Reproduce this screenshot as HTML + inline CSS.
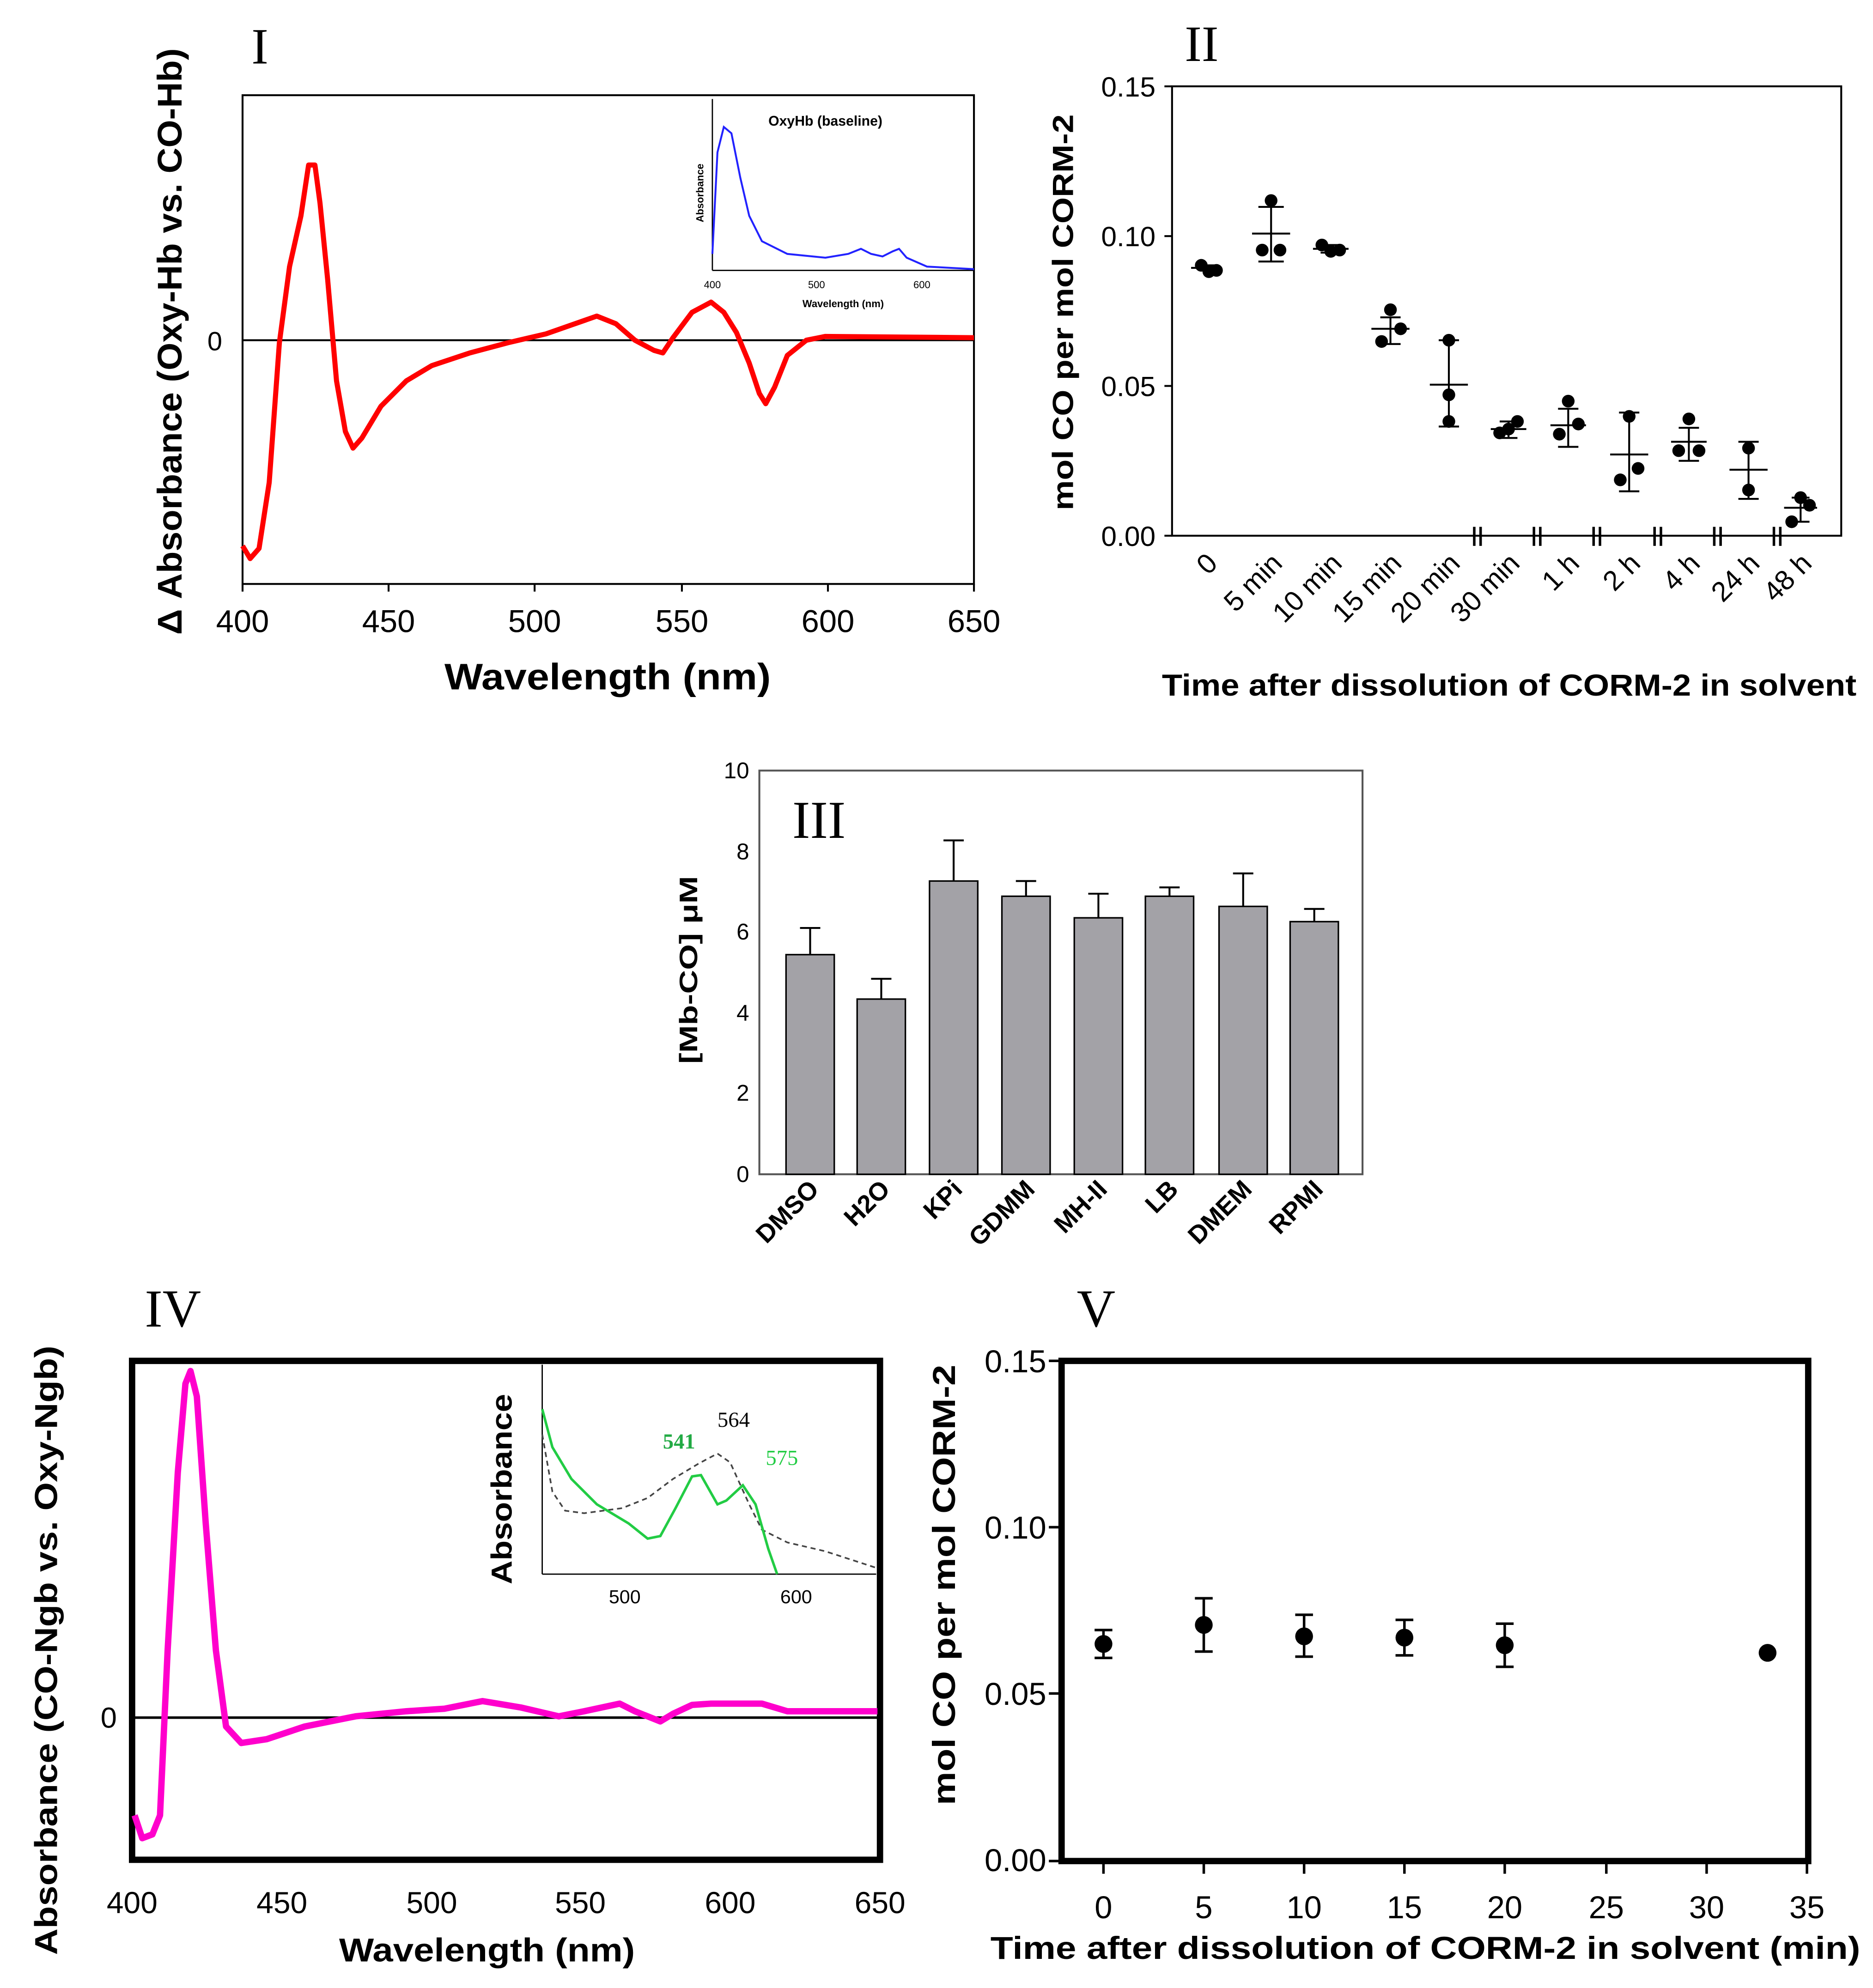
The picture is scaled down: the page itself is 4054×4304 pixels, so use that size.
<!DOCTYPE html>
<html><head><meta charset="utf-8"><style>html,body{margin:0;padding:0;background:#fff}svg{display:block}</style></head><body>
<svg xmlns="http://www.w3.org/2000/svg" width="4054" height="4304" viewBox="0 0 1475 1566" font-family="Liberation Sans, sans-serif">
<rect width="1475" height="1566" fill="#fff"/>
<!-- Panel I -->
<text x="198" y="50" font-family="Liberation Serif, serif" font-size="40">I</text>
<rect x="191" y="75" width="576" height="385" fill="none" stroke="#000" stroke-width="1.5"/>
<line x1="191" y1="268" x2="767" y2="268" stroke="#000" stroke-width="1.5"/>
<text x="175" y="276" font-size="21" text-anchor="end">0</text>
<g font-size="25" text-anchor="middle">
<text x="191" y="498">400</text><text x="306" y="498">450</text><text x="421" y="498">500</text><text x="537" y="498">550</text><text x="652" y="498">600</text><text x="767" y="498">650</text>
</g>
<g stroke="#000" stroke-width="1.5"><line x1="191" y1="460" x2="191" y2="466"/><line x1="306" y1="460" x2="306" y2="466"/><line x1="421" y1="460" x2="421" y2="466"/><line x1="537" y1="460" x2="537" y2="466"/><line x1="652" y1="460" x2="652" y2="466"/><line x1="767" y1="460" x2="767" y2="466"/></g>
<text x="350" y="543" font-size="29" font-weight="bold" textLength="257" lengthAdjust="spacingAndGlyphs">Wavelength (nm)</text>
<text transform="translate(143,500) rotate(-90)" font-size="27" font-weight="bold" textLength="462" lengthAdjust="spacingAndGlyphs">Δ Absorbance (Oxy-Hb vs. CO-Hb)</text>
<polyline fill="none" stroke="#f00" stroke-width="4" stroke-linejoin="round" points="191,430 197,440 204,432 212,380 220,270 228,210 237,170 243,130 248,130 252,160 258,220 265,300 272,340 278,353 285,345 300,320 320,300 340,288 370,278 400,270 430,263 450,256 470,249 485,255 500,268 515,276 522,278 530,266 545,246 560,238 570,246 580,262 590,286 598,310 603,318 610,305 620,280 635,268 650,265 767,266"/>
<line x1="561" y1="78" x2="561" y2="213" stroke="#000"/><line x1="561" y1="213" x2="767" y2="213" stroke="#000"/>
<polyline fill="none" stroke="#22f" stroke-width="1.5" points="561,200 565,120 570,100 576,105 583,140 590,170 600,190 620,200 650,203 668,200 678,196 686,200 695,202 703,198 708,196 714,203 730,210 767,212"/>
<text x="650" y="99" font-size="11" font-weight="bold" text-anchor="middle">OxyHb (baseline)</text>
<text transform="translate(554,152) rotate(-90)" font-size="8" font-weight="bold" text-anchor="middle">Absorbance</text>
<g font-size="8" text-anchor="middle"><text x="561" y="227">400</text><text x="643" y="227">500</text><text x="726" y="227">600</text></g>
<text x="664" y="242" font-size="8" font-weight="bold" text-anchor="middle">Wavelength (nm)</text>
<!-- Panel II -->
<text x="933" y="48" font-family="Liberation Serif, serif" font-size="40">II</text>
<rect x="923" y="68" width="527" height="354" fill="none" stroke="#000" stroke-width="1.5"/>
<g font-size="22" text-anchor="end"><text x="910" y="76">0.15</text><text x="910" y="194">0.10</text><text x="910" y="312">0.05</text><text x="910" y="430">0.00</text></g>
<g stroke="#000" stroke-width="1.5"><line x1="917" y1="68" x2="923" y2="68"/><line x1="917" y1="186" x2="923" y2="186"/><line x1="917" y1="304" x2="923" y2="304"/><line x1="917" y1="422" x2="923" y2="422"/></g>
<text transform="translate(845,402) rotate(-90)" font-size="23" font-weight="bold" textLength="312" lengthAdjust="spacingAndGlyphs">mol CO per mol  CORM-2</text>
<g font-size="22" text-anchor="end">
<text transform="translate(960,445) rotate(-45)">0</text><text transform="translate(1011,445) rotate(-45)">5 min</text><text transform="translate(1058,445) rotate(-45)">10 min</text><text transform="translate(1105,445) rotate(-45)">15 min</text><text transform="translate(1151,445) rotate(-45)">20 min</text><text transform="translate(1198,445) rotate(-45)">30 min</text><text transform="translate(1245,445) rotate(-45)">1 h</text><text transform="translate(1293,445) rotate(-45)">2 h</text><text transform="translate(1340,445) rotate(-45)">4 h</text><text transform="translate(1387,445) rotate(-45)">24 h</text><text transform="translate(1428,445) rotate(-45)">48 h</text>
</g>
<g stroke="#000" stroke-width="2"><line x1="1161" y1="415" x2="1161" y2="430"/><line x1="1166" y1="415" x2="1166" y2="430"/><line x1="1208" y1="415" x2="1208" y2="430"/><line x1="1213" y1="415" x2="1213" y2="430"/><line x1="1255" y1="415" x2="1255" y2="430"/><line x1="1260" y1="415" x2="1260" y2="430"/><line x1="1303" y1="415" x2="1303" y2="430"/><line x1="1308" y1="415" x2="1308" y2="430"/><line x1="1350" y1="415" x2="1350" y2="430"/><line x1="1355" y1="415" x2="1355" y2="430"/><line x1="1397" y1="415" x2="1397" y2="430"/><line x1="1402" y1="415" x2="1402" y2="430"/></g>
<text x="915" y="548" font-size="24" font-weight="bold" textLength="547" lengthAdjust="spacingAndGlyphs">Time after dissolution of CORM-2 in solvent</text>
<g stroke="#000" stroke-width="1.5" fill="none">
<path d="M938,211h24M950,207v8M943,209h14"/>
<path d="M986,184h30M1001,163v43M991,206h20M991,163h20"/>
<path d="M1034,196h28M1048,193v6M1040,193h16M1040,199h16"/>
<path d="M1080,259h30M1095,250v21M1087,250h16M1087,271h16"/>
<path d="M1126,303h30M1141,268v68M1133,268h16M1133,336h16"/>
<path d="M1174,338h28M1188,332v13M1181,332h14M1181,345h14"/>
<path d="M1221,335h28M1235,322v30M1227,322h16M1227,352h16"/>
<path d="M1268,358h30M1283,325v62M1275,325h16M1275,387h16"/>
<path d="M1316,348h28M1330,337v26M1322,337h16M1322,363h16"/>
<path d="M1362,370h30M1377,348v45M1369,348h16M1369,393h16"/>
<path d="M1405,400h26M1418,392v19M1411,392h14M1411,411h14"/>
</g>
<g fill="#000">
<circle cx="946" cy="209" r="5"/><circle cx="952" cy="214" r="5"/><circle cx="958" cy="213" r="5"/>
<circle cx="1001" cy="158" r="5"/><circle cx="994" cy="197" r="5"/><circle cx="1008" cy="197" r="5"/>
<circle cx="1041" cy="193" r="5"/><circle cx="1048" cy="198" r="5"/><circle cx="1055" cy="197" r="5"/>
<circle cx="1095" cy="244" r="5"/><circle cx="1088" cy="269" r="5"/><circle cx="1103" cy="259" r="5"/>
<circle cx="1141" cy="268" r="5"/><circle cx="1141" cy="311" r="5"/><circle cx="1141" cy="332" r="5"/>
<circle cx="1181" cy="341" r="5"/><circle cx="1195" cy="332" r="5"/><circle cx="1188" cy="338" r="5"/>
<circle cx="1235" cy="316" r="5"/><circle cx="1228" cy="342" r="5"/><circle cx="1243" cy="334" r="5"/>
<circle cx="1283" cy="328" r="5"/><circle cx="1276" cy="378" r="5"/><circle cx="1290" cy="369" r="5"/>
<circle cx="1330" cy="330" r="5"/><circle cx="1322" cy="355" r="5"/><circle cx="1338" cy="355" r="5"/>
<circle cx="1377" cy="353" r="5"/><circle cx="1377" cy="386" r="5"/>
<circle cx="1411" cy="411" r="5"/><circle cx="1418" cy="392" r="5"/><circle cx="1425" cy="398" r="5"/>
</g>
<!-- Panel III -->
<rect x="598" y="607" width="475" height="318" fill="none" stroke="#555" stroke-width="1.5"/>
<g font-size="18" text-anchor="end"><text x="590" y="613">10</text><text x="590" y="677">8</text><text x="590" y="740">6</text><text x="590" y="804">4</text><text x="590" y="867">2</text><text x="590" y="931">0</text></g>
<text transform="translate(549,838) rotate(-90)" font-size="20" font-weight="bold" textLength="148" lengthAdjust="spacingAndGlyphs">[Mb-CO] μM</text>
<text x="624" y="660" font-family="Liberation Serif, serif" font-size="42">III</text>
<g fill="#a3a2a7" stroke="#000" stroke-width="1.2">
<rect x="619" y="752" width="38" height="173"/><rect x="675" y="787" width="38" height="138"/><rect x="732" y="694" width="38" height="231"/><rect x="789" y="706" width="38" height="219"/><rect x="846" y="723" width="38" height="202"/><rect x="902" y="706" width="38" height="219"/><rect x="960" y="714" width="38" height="211"/><rect x="1016" y="726" width="38" height="199"/>
</g>
<g stroke="#000" stroke-width="1.5" fill="none">
<path d="M638,752V731M630,731h16"/><path d="M694,787V771M686,771h16"/><path d="M751,694V662M743,662h16"/><path d="M808,706V694M800,694h16"/><path d="M865,723V704M857,704h16"/><path d="M921,706V699M913,699h16"/><path d="M979,714V688M971,688h16"/><path d="M1035,726V716M1027,716h16"/>
</g>
<g font-size="20" font-weight="bold" text-anchor="end">
<text transform="translate(646,938) rotate(-45)">DMSO</text><text transform="translate(702,938) rotate(-45)">H2O</text><text transform="translate(759,938) rotate(-45)">KPi</text><text transform="translate(816,938) rotate(-45)">GDMM</text><text transform="translate(873,938) rotate(-45)">MH-II</text><text transform="translate(929,938) rotate(-45)">LB</text><text transform="translate(987,938) rotate(-45)">DMEM</text><text transform="translate(1043,938) rotate(-45)">RPMI</text>
</g>
<!-- Panel IV -->
<text x="114" y="1045" font-family="Liberation Serif, serif" font-size="42">IV</text>
<rect x="104" y="1072" width="589" height="393" fill="none" stroke="#000" stroke-width="5"/>
<line x1="104" y1="1353" x2="693" y2="1353" stroke="#000" stroke-width="2"/>
<text x="92" y="1361" font-size="23" text-anchor="end">0</text>
<g font-size="24" text-anchor="middle"><text x="104" y="1507">400</text><text x="222" y="1507">450</text><text x="340" y="1507">500</text><text x="457" y="1507">550</text><text x="575" y="1507">600</text><text x="693" y="1507">650</text></g>
<text x="267" y="1545" font-size="26" font-weight="bold" textLength="233" lengthAdjust="spacingAndGlyphs">Wavelength (nm)</text>
<text transform="translate(45,1540) rotate(-90)" font-size="25" font-weight="bold" textLength="480" lengthAdjust="spacingAndGlyphs">Absorbance  (CO-Ngb vs. Oxy-Ngb)</text>
<polyline fill="none" stroke="#f0c" stroke-width="5" stroke-linejoin="round" points="106,1430 112,1448 120,1445 126,1430 132,1300 140,1160 146,1090 150,1080 155,1100 162,1200 170,1300 178,1360 190,1373 210,1370 240,1360 280,1352 320,1348 350,1346 380,1340 410,1345 440,1352 460,1348 488,1342 500,1348 520,1356 530,1350 545,1343 560,1342 600,1342 620,1348 691,1348"/>
<line x1="427" y1="1075" x2="427" y2="1240" stroke="#000"/><line x1="427" y1="1240" x2="690" y2="1240" stroke="#000"/>
<polyline fill="none" stroke="#444" stroke-width="1.3" stroke-dasharray="4,3" points="427,1130 435,1175 445,1190 460,1192 490,1188 510,1180 530,1165 550,1153 565,1145 575,1152 590,1185 600,1205 620,1215 650,1222 690,1235"/>
<polyline fill="none" stroke="#2c4" stroke-width="2" points="427,1110 435,1140 450,1165 470,1185 495,1200 510,1212 520,1210 532,1188 545,1163 552,1162 565,1185 572,1182 585,1170 595,1185 605,1220 612,1240"/>
<text transform="translate(403,1248) rotate(-90)" font-size="23" font-weight="bold" textLength="150" lengthAdjust="spacingAndGlyphs">Absorbance</text>
<g font-family="Liberation Serif, serif" font-size="17"><text x="522" y="1141" fill="#2a4" font-weight="bold">541</text><text x="565" y="1124">564</text><text x="603" y="1154" fill="#2c4">575</text></g>
<g font-size="15" text-anchor="middle"><text x="492" y="1263">500</text><text x="627" y="1263">600</text></g>
<!-- Panel V -->
<text x="848" y="1045" font-family="Liberation Serif, serif" font-size="42">V</text>
<rect x="836" y="1072" width="588" height="394" fill="none" stroke="#000" stroke-width="5"/>
<g font-size="25" text-anchor="end"><text x="824" y="1081">0.15</text><text x="824" y="1212">0.10</text><text x="824" y="1343">0.05</text><text x="824" y="1474">0.00</text></g>
<g stroke="#000" stroke-width="2"><line x1="826" y1="1072" x2="836" y2="1072"/><line x1="826" y1="1203" x2="836" y2="1203"/><line x1="826" y1="1334" x2="836" y2="1334"/><line x1="826" y1="1466" x2="836" y2="1466"/></g>
<g font-size="25" text-anchor="middle"><text x="869" y="1511">0</text><text x="948" y="1511">5</text><text x="1027" y="1511">10</text><text x="1106" y="1511">15</text><text x="1185" y="1511">20</text><text x="1265" y="1511">25</text><text x="1344" y="1511">30</text><text x="1423" y="1511">35</text></g>
<g stroke="#000" stroke-width="2"><line x1="869" y1="1466" x2="869" y2="1476"/><line x1="948" y1="1466" x2="948" y2="1476"/><line x1="1027" y1="1466" x2="1027" y2="1476"/><line x1="1106" y1="1466" x2="1106" y2="1476"/><line x1="1185" y1="1466" x2="1185" y2="1476"/><line x1="1265" y1="1466" x2="1265" y2="1476"/><line x1="1344" y1="1466" x2="1344" y2="1476"/><line x1="1423" y1="1466" x2="1423" y2="1476"/></g>
<text x="780" y="1543" font-size="25" font-weight="bold" textLength="685" lengthAdjust="spacingAndGlyphs">Time after dissolution of CORM-2 in solvent (min)</text>
<text transform="translate(752,1422) rotate(-90)" font-size="25" font-weight="bold" textLength="347" lengthAdjust="spacingAndGlyphs">mol CO per mol CORM-2</text>
<g stroke="#000" stroke-width="2" fill="none">
<path d="M869,1284v22M862,1284h14M862,1306h14"/><path d="M948,1259v42M941,1259h14M941,1301h14"/><path d="M1027,1272v33M1020,1272h14M1020,1305h14"/><path d="M1106,1276v28M1099,1276h14M1099,1304h14"/><path d="M1185,1279v34M1178,1279h14M1178,1313h14"/>
</g>
<g fill="#000"><circle cx="869" cy="1295" r="7"/><circle cx="948" cy="1280" r="7"/><circle cx="1027" cy="1289" r="7"/><circle cx="1106" cy="1290" r="7"/><circle cx="1185" cy="1296" r="7"/><circle cx="1392" cy="1302" r="7"/></g>
</svg>
</body></html>
